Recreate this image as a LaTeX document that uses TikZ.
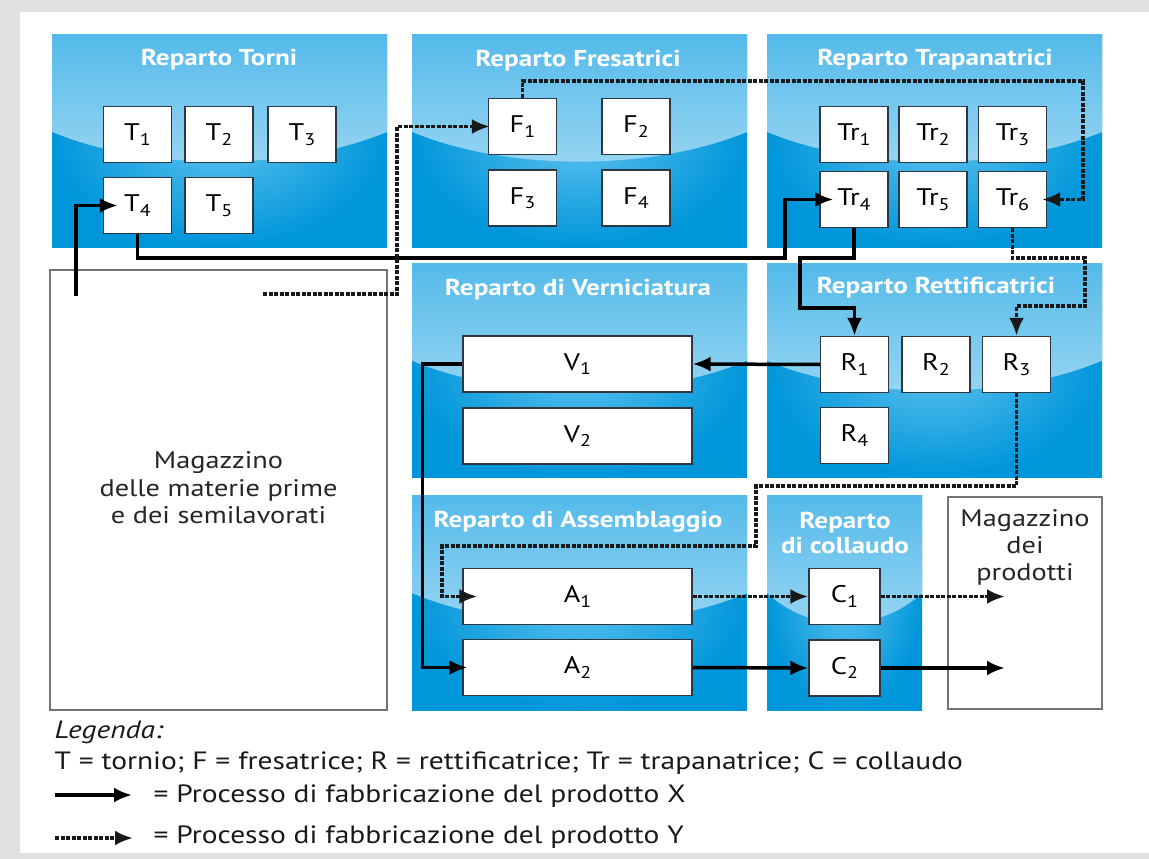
\documentclass[tikz,border=0pt]{standalone}
\usepackage{fontspec}
\setmainfont{PT Sans}[FakeStretch=1.18]
\usetikzlibrary{arrows.meta}
\usetikzlibrary{calc}
\definecolor{bluscuro}{RGB}{0,150,218}
\definecolor{bluchiaro}{RGB}{90,192,238}
\definecolor{blumedio}{RGB}{28,164,226}
\definecolor{blupallido}{RGB}{150,212,242}
\definecolor{bordo}{RGB}{45,55,65}

% reparto: x1, y1, x2, y2
\newcommand{\reparto}[4]{%
  \begin{scope}
    \clip (#1,#2) rectangle (#3,#4);
    \shade [inner color=bluchiaro, outer color=bluscuro] (#1,#2) rectangle (#3,#4);
    \pgfmathsetmacro{\rx}{0.75*(#3-#1)}
    \pgfmathsetmacro{\ry}{0.55*(#4-#2)}
    \shade [top color=blumedio, middle color=blumedio, bottom color=blupallido] ($(#1,#2)!0.5!(#3,#2)+(0,10)$) ellipse [x radius=\rx pt, y radius=\ry pt];
  \end{scope}}
\newcommand{\pd}[1]{\raisebox{-4.5pt}{\fontsize{17}{17}\selectfont #1}}

\tikzset{
  macchina/.style={draw=bordo, line width=1.2pt, fill=white, minimum width=68pt, minimum height=56pt, inner sep=0pt, font=\fontsize{24}{26}\selectfont},
  lunga/.style={macchina, minimum width=229pt},
  titolo/.style={text=white, font=\fontsize{23}{25}\selectfont\bfseries, align=center},
  magazzino/.style={draw=black!55, line width=1.5pt, fill=white, inner sep=0pt},
  testo/.style={font=\fontsize{24}{27.5}\selectfont, align=center, text=black!85},
  legtesto/.style={anchor=base west, font=\fontsize{25}{27}\selectfont, text=black!90},
  procX/.style={line width=3.5pt, -{Latex[length=18pt,width=15pt]}},
  procY/.style={line width=3.5pt, black!90, dash pattern=on 4pt off 1.5pt, -{Latex[length=18pt,width=15pt]}},
}

\begin{document}
\begin{tikzpicture}[x=1pt, y=-1pt]
    \useasboundingbox (0,0) rectangle (1149,859);
    \fill [black!12] (0,0) rectangle (1149,859);
    \fill [white] (20,12) rectangle (1149,853);

    % reparti
    \reparto{52}{35}{387}{247}
    \reparto{412}{35}{747}{247}
    \reparto{767}{35}{1102}{247}
    \reparto{412}{263}{747}{477}
    \reparto{767}{263}{1102}{477}
    \reparto{412}{495}{747}{710}
    \reparto{767}{495}{922}{710}

    \node [titolo] (torni) at (219,60) {Reparto Torni};
    \node [titolo] (fresatrici) at (578,61) {Reparto Fresatrici};
    \node [titolo] (trapanatrici) at (935,60) {Reparto Trapanatrici};
    \node [titolo] (verniciatura) at (578,290) {Reparto di Verniciatura};
    \node [titolo] (rettificatrici) at (936,288) {Reparto Rettificatrici};
    \node [titolo] (assemblaggio) at (578,522) {Reparto di Assemblaggio};
    \node [titolo] (collaudo) at (845,533) {Reparto\\di collaudo};

    % magazzini
    \node [magazzino, minimum width=337pt, minimum height=440pt] (magMat) at (218.5,490) {};
    \node [testo] (magMatTxt) at (218.5,488) {Magazzino\\delle materie prime\\e dei semilavorati};
    \node [magazzino, minimum width=154pt, minimum height=212pt] (magProd) at (1025,603) {};
    \node [testo, font=\fontsize{24}{27}\selectfont] (magProdTxt) at (1025,547) {Magazzino\\dei\\prodotti};

    % macchine
    \node [macchina] (T1) at (137.5,134.5) {T\pd{1}};
    \node [macchina] (T2) at (219,134.5) {T\pd{2}};
    \node [macchina] (T3) at (302,134.5) {T\pd{3}};
    \node [macchina] (T4) at (137.5,205.5) {T\pd{4}};
    \node [macchina] (T5) at (219,205.5) {T\pd{5}};

    \node [macchina] (F1) at (522.5,126.5) {F\pd{1}};
    \node [macchina] (F2) at (636,126.5) {F\pd{2}};
    \node [macchina] (F3) at (522.5,198) {F\pd{3}};
    \node [macchina] (F4) at (636,198) {F\pd{4}};

    \node [macchina] (Tr1) at (854,134.5) {Tr\pd{1}};
    \node [macchina] (Tr2) at (933,134.5) {Tr\pd{2}};
    \node [macchina] (Tr3) at (1012.5,134.5) {Tr\pd{3}};
    \node [macchina] (Tr4) at (854,199.5) {Tr\pd{4}};
    \node [macchina] (Tr5) at (933,199.5) {Tr\pd{5}};
    \node [macchina] (Tr6) at (1012.5,199.5) {Tr\pd{6}};

    \node [lunga] (V1) at (577.5,364) {V\pd{1}};
    \node [lunga] (V2) at (577.5,436) {V\pd{2}};

    \node [macchina] (R1) at (854.5,364.5) {R\pd{1}};
    \node [macchina] (R2) at (936,364.5) {R\pd{2}};
    \node [macchina] (R3) at (1016.5,364.5) {R\pd{3}};
    \node [macchina] (R4) at (854.5,435.5) {R\pd{4}};

    \node [lunga] (A1) at (577.5,596.5) {A\pd{1}};
    \node [lunga] (A2) at (577.5,667.5) {A\pd{2}};

    \node [macchina, minimum width=71pt] (C1) at (844.5,596.5) {C\pd{1}};
    \node [macchina, minimum width=71pt] (C2) at (844.5,668) {C\pd{2}};

    % prodotto X
    \coordinate (inizioX) at (76,296);
    \coordinate (fineX) at (1005,668);
    \draw [procX] (inizioX) |- ([xshift=15]T4.west);
    \draw [procX] (T4.south) |- ++(647.5,24) |- ([xshift=14]Tr4.west);
    \draw [procX] (Tr4.south) |- ++(-54,30) -- ++(0,50) -| (R1.north);
    \draw [procX] (R1.west) -- (V1.east);
    \draw [procX] (V1.west) -- ++(-40,0) |- ([xshift=5]A2.west);
    \draw [procX] (A2.east) -- (C2.west);
    \draw [procX] (C2.east) -- (fineX);

    % prodotto Y
    \coordinate (inizioY) at (263,294);
    \coordinate (fineY) at (1005,596.5);
    \draw [procY] (inizioY) -- ++(134,0) |- ([xshift=2]F1.west);
    \draw [procY] (F1.north) |- ++(560.5,-17) |- ([xshift=-5]Tr6.east);
    \draw [procY] (Tr6.south) |- ++(72.5,30) -- ++(0,48) -| (R3.north);
    \draw [procY] (R3.south) |- ++(-260.5,93) |- ++(-314,60) |- ([xshift=15]A1.west);
    \draw [procY] (A1.east) -- (C1.west);
    \draw [procY] (C1.east) -- (fineY);

    % legenda
    \node [legtesto, font=\fontsize{25}{27}\selectfont\itshape] (legenda) at (51,738) {Legenda:};
    \node [legtesto] (sigle) at (51,769) {T = tornio; F = fresatrice; R = rettificatrice; Tr = trapanatrice; C = collaudo};
    \coordinate (legX1) at (55,795);
    \coordinate (legX2) at (132,795);
    \coordinate (legY1) at (55,838);
    \coordinate (legY2) at (133,838);
    \draw [procX] (legX1) -- (legX2);
    \draw [procY] (legY1) -- (legY2);
    \node [legtesto] (legX) at (150,802) {= Processo di fabbricazione del prodotto X};
    \node [legtesto] (legY) at (150,843) {= Processo di fabbricazione del prodotto Y};
\end{tikzpicture}
\end{document}
